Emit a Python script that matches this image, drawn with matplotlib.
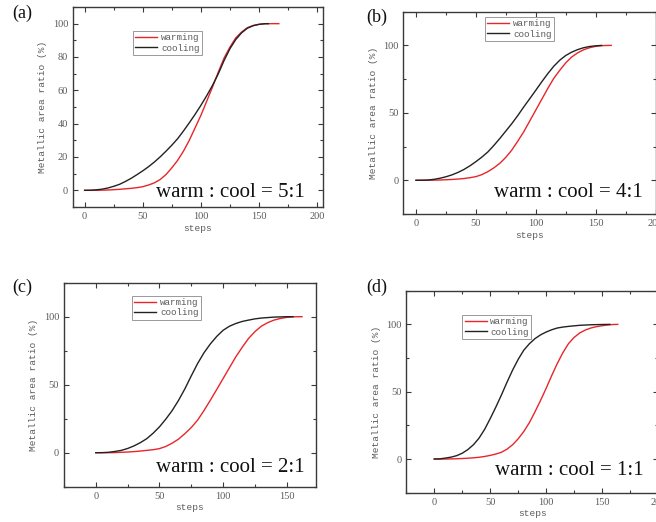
import matplotlib
matplotlib.use("Agg")
import matplotlib.pyplot as plt
from matplotlib.ticker import MultipleLocator

# ---------------- data ----------------
a_warm_x = [0, 5, 10, 15, 20, 25, 30, 35, 40, 45, 50, 55, 60, 65, 70, 75, 80, 85, 90, 95, 100,
            105, 110, 115, 120, 125, 130, 135, 140, 145, 150, 155, 160, 167]
a_warm_y = [0, 0, 0, 0.1, 0.2, 0.4, 0.6, 0.9, 1.2, 1.6, 2.2, 3.2, 4.5, 6.5, 9.5, 13.5, 18, 23.5, 30,
            37.5, 45, 53.5, 62, 71, 79.5, 86, 91.5, 95, 97.6, 98.9, 99.6, 99.9, 100, 100]
a_cool_x = [0, 5, 10, 15, 20, 25, 30, 35, 40, 45, 50, 55, 60, 65, 70, 75, 80, 85, 90, 95, 100,
            105, 110, 115, 120, 125, 130, 135, 140, 145, 150, 155, 158]
a_cool_y = [0, 0.05, 0.3, 0.7, 1.4, 2.4, 3.6, 5.3, 7.2, 9.4, 11.7, 14.2, 17, 20.1, 23.5, 27.1, 31,
            35.6, 40.5, 45.6, 51, 56.8, 63, 70, 78, 85, 90.5, 94.5, 97.3, 98.8, 99.6, 100, 100]

b_warm_x = [0, 5, 10, 15, 20, 25, 30, 35, 40, 45, 50, 55, 60, 65, 70, 75, 80, 85, 90, 95, 100,
            105, 110, 115, 120, 125, 130, 135, 140, 145, 150, 155, 160, 163]
b_warm_y = [0, 0, 0, 0.1, 0.2, 0.4, 0.6, 0.9, 1.3, 1.9, 2.7, 4.2, 6.4, 9.2, 12.6, 17, 22.4, 29, 36,
            44, 52, 60, 68, 75.5, 81.5, 87, 91.4, 94.5, 96.8, 98.3, 99.3, 99.8, 100, 100]
b_cool_x = [0, 5, 10, 15, 20, 25, 30, 35, 40, 45, 50, 55, 60, 65, 70, 75, 80, 85, 90, 95, 100,
            105, 110, 115, 120, 125, 130, 135, 140, 145, 150, 155]
b_cool_y = [0, 0.05, 0.2, 0.7, 1.5, 2.6, 4, 5.8, 8, 10.7, 13.8, 17.2, 21, 25.8, 31, 36.5, 42, 48,
            54.4, 60.5, 66.7, 73, 79, 84.5, 89, 92.5, 95, 96.9, 98.3, 99.2, 99.7, 100]

c_warm_x = [0, 10, 15, 20, 25, 30, 35, 40, 45, 50, 55, 60, 65, 70, 75, 80, 85, 90, 95, 100,
            105, 110, 115, 120, 125, 130, 135, 140, 145, 150, 155, 162]
c_warm_y = [0, 0, 0.1, 0.3, 0.5, 0.8, 1.2, 1.7, 2.2, 3, 4.6, 7, 10, 14, 18.5, 24, 31, 38.6, 46.5,
            54.5, 62.5, 70.5, 77.5, 84, 89, 93, 95.6, 97.5, 98.7, 99.5, 99.9, 100]
c_cool_x = [0, 5, 10, 15, 20, 25, 30, 35, 40, 45, 50, 55, 60, 65, 70, 75, 80, 85, 90, 95, 100,
            105, 110, 115, 120, 125, 130, 140, 150, 155]
c_cool_y = [0, 0.05, 0.3, 0.9, 1.7, 3.1, 5, 7.4, 10.3, 14.3, 19, 24.7, 31, 38.5, 47, 56.5, 65.6,
            73.5, 80, 85.5, 90, 93, 95, 96.5, 97.5, 98.4, 99, 99.7, 100, 100]

d_warm_x = [0, 10, 20, 25, 30, 35, 40, 45, 50, 55, 60, 65, 70, 75, 80, 85, 90, 95, 100, 105, 110,
            115, 120, 125, 130, 135, 140, 145, 150, 155, 160, 164]
d_warm_y = [0, 0, 0.2, 0.4, 0.6, 0.9, 1.3, 1.9, 2.7, 3.7, 5, 7.3, 10.6, 15, 20.4, 27, 35, 43.5,
            52.5, 62, 71, 79, 85.7, 90.3, 93.6, 95.8, 97.3, 98.3, 99, 99.5, 99.9, 100]
d_cool_x = [0, 5, 10, 15, 20, 25, 30, 35, 40, 45, 50, 55, 60, 65, 70, 75, 80, 85, 90, 95, 100,
            105, 110, 115, 120, 130, 140, 150, 157]
d_cool_y = [0, 0.15, 0.7, 1.4, 2.5, 4.3, 7, 10.6, 15.5, 22, 30, 38.5, 47.5, 57, 66, 74, 80.8,
            85.6, 89.4, 92.2, 94.3, 96, 97.3, 98, 98.5, 99.3, 99.7, 99.9, 100]

panel_labels = ["(a)", "(b)", "(c)", "(d)"]
ratio_texts = ["warm : cool = 5:1", "warm : cool = 4:1", "warm : cool = 2:1", "warm : cool = 1:1"]
series_names = ["warming", "cooling"]
x_label = "steps"
y_label = "Metallic area ratio (%)"

# ---------------- layout / style ----------------
W, H = 656, 522
fig = plt.figure(figsize=(W / 100, H / 100), dpi=100)

def px_rect(l, t, r, b):
    return [l / W, 1 - b / H, (r - l) / W, (b - t) / H]

panels = [
    dict(rect=px_rect(73, 7, 323, 207), xlim=(-10, 205), ylim=(-10, 110), ymaj=20, ymin=10,
         warm=(a_warm_x, a_warm_y), cool=(a_cool_x, a_cool_y),
         leg=(0.24, 0.88), txt=(0.928, 0.05), lab=(12, 18)),
    dict(rect=px_rect(403.3, 11.7, 655.5, 214), xlim=(-10.6, 200), ylim=(-25, 125), ymaj=50, ymin=25,
         warm=(b_warm_x, b_warm_y), cool=(b_cool_x, b_cool_y),
         leg=(0.324, 0.974), txt=(0.95, 0.084), lab=(366, 22)),
    dict(rect=px_rect(64, 282.7, 316, 486.7), xlim=(-25, 173), ylim=(-25, 125), ymaj=50, ymin=25,
         warm=(c_warm_x, c_warm_y), cool=(c_cool_x, c_cool_y),
         leg=(0.27, 0.936), txt=(0.956, 0.0735), lab=(12, 292)),
    dict(rect=px_rect(406.3, 290.7, 658, 492.7), xlim=(-25, 200), ylim=(-25, 125), ymaj=50, ymin=25,
         warm=(d_warm_x, d_warm_y), cool=(d_cool_x, d_cool_y),
         leg=(0.223, 0.88), txt=(0.941, 0.0876), lab=(366, 292)),
]

RED = "#e8252b"
BLK = "#222222"
GRAY = "#5a5a5a"
SPINE = "#3a3a3a"
serif = "Liberation Serif"
mono = "Liberation Mono"

for i, p in enumerate(panels):
    ax = fig.add_axes(p["rect"])
    ax.plot(*p["warm"], color=RED, lw=1.0, label=series_names[0])
    ax.plot(*p["cool"], color=BLK, lw=1.0, label=series_names[1])
    ax.set_xlim(*p["xlim"])
    ax.set_ylim(*p["ylim"])
    ax.xaxis.set_major_locator(MultipleLocator(50))
    ax.xaxis.set_minor_locator(MultipleLocator(25))
    ax.yaxis.set_major_locator(MultipleLocator(p["ymaj"]))
    ax.yaxis.set_minor_locator(MultipleLocator(p["ymin"]))
    ax.tick_params(which="both", direction="in", top=True, right=True, color=SPINE, width=0.8)
    ax.tick_params(which="major", length=3.5, labelsize=7.5, labelcolor=GRAY, pad=3.5)
    ax.tick_params(which="minor", length=2.5)
    for lbl in ax.get_xticklabels() + ax.get_yticklabels():
        lbl.set_fontfamily(serif)
    for s in ax.spines.values():
        s.set_color(SPINE)
        s.set_linewidth(1.0)
    ax.set_xlabel(x_label, fontfamily=mono, fontsize=6.8, color=GRAY, labelpad=2)
    ax.set_ylabel(y_label, fontfamily=mono, fontsize=6.8, color=GRAY, labelpad=4)
    leg = ax.legend(loc="upper left", bbox_to_anchor=p["leg"], frameon=True, fancybox=False,
                    edgecolor="#999999", framealpha=1, borderpad=0.25, handlelength=2.4,
                    handletextpad=0.4, labelspacing=0.15, borderaxespad=0,
                    prop={"family": mono, "size": 6.6})
    leg.get_frame().set_linewidth(0.7)
    for t in leg.get_texts():
        t.set_color(GRAY)
    ax.text(p["txt"][0], p["txt"][1], ratio_texts[i], transform=ax.transAxes, ha="right",
            va="baseline", fontfamily=serif, fontsize=15, color="#111111")
    lx, ly = p["lab"]
    fig.text(lx / W, 1 - ly / H, panel_labels[i], ha="left", va="baseline",
             fontfamily=serif, fontsize=13, color="#111111")

fig.savefig("out.png", dpi=100)
